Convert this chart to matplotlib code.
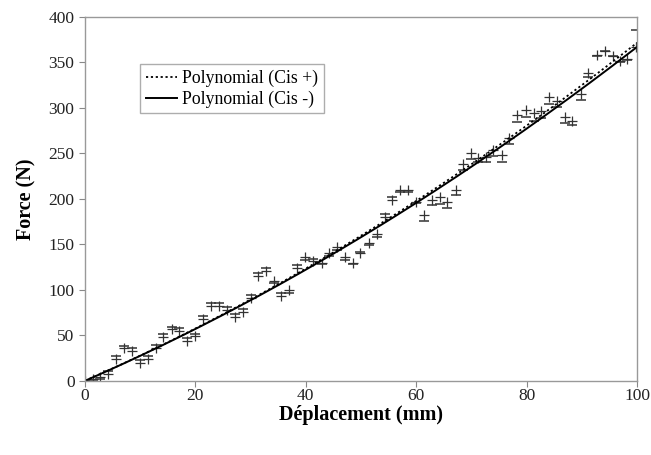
import matplotlib
matplotlib.use("Agg")
import matplotlib.pyplot as plt
import numpy as np

# Displacement (mm), shared by both series
x_mm = [0, 1.4, 2.7, 4.2, 5.6, 7.0, 8.5, 10.0, 11.4, 12.9,
        14.2, 15.7, 17.0, 18.4, 20.0, 21.4, 22.9, 24.3, 25.7, 27.2,
        28.6, 30.0, 31.3, 32.8, 34.2, 35.6, 37.0, 38.4, 39.9, 41.3,
        42.9, 44.2, 45.7, 47.1, 48.5, 49.9, 51.4, 52.9, 54.3, 55.7,
        57.0, 58.5, 60.0, 61.4, 62.8, 64.3, 65.6, 67.2, 68.4, 69.9,
        71.2, 72.6, 73.9, 75.5, 76.8, 78.2, 79.9, 81.3, 82.7, 84.0,
        85.5, 87.0, 88.3, 89.8, 91.1, 92.7, 94.2, 95.6, 96.9, 98.2, 99.8]

# Force (N), Cis + series
force_plus = [0, 2, 4, 8, 24, 36, 33, 20, 24, 36,
              48, 57, 55, 44, 49, 68, 82, 82, 78, 70,
              76, 91, 115, 121, 110, 93, 100, 124, 136, 132,
              130, 140, 147, 136, 130, 140, 151, 161, 180, 199,
              210, 210, 197, 182, 199, 202, 196, 210, 238, 250,
              245, 246, 254, 248, 267, 292, 298, 294, 297, 312,
              308, 290, 286, 315, 338, 358, 363, 357, 351, 354, 367]

# Force (N), Cis - series
force_minus = [1, 0, 2, 11, 27, 38, 36, 23, 27, 39,
               51, 59, 58, 47, 52, 71, 86, 86, 81, 73,
               79, 94, 118, 124, 107, 96, 97, 127, 133, 134,
               128, 137, 144, 133, 128, 142, 149, 158, 183, 202,
               207, 207, 195, 176, 193, 194, 190, 204, 232, 244,
               240, 240, 247, 240, 260, 284, 290, 286, 289, 304,
               301, 283, 281, 309, 334, 357, 362, 357, 350, 353, 385]

x = np.array(x_mm, dtype=float)
yp = np.array(force_plus, dtype=float)
ym = np.array(force_minus, dtype=float)


def poly2_origin(xs, ys):
    # order-2 trendline with intercept set to 0
    A = np.column_stack([xs, xs ** 2])
    coef, *_ = np.linalg.lstsq(A, ys, rcond=None)
    return coef


xx = np.linspace(0, 100, 200)
cp = poly2_origin(x, yp)
cm = poly2_origin(x, ym)
fit_plus = cp[0] * xx + cp[1] * xx ** 2
fit_minus = cm[0] * xx + cm[1] * xx ** 2

plt.rcParams["font.family"] = "Liberation Serif"

fig = plt.figure(figsize=(6.51, 4.55), dpi=100)
ax = fig.add_axes([0.1305, 0.163, 0.848, 0.8])

mk = "#333333"
ax.plot(x, yp, linestyle="none", marker="+", markersize=7,
        markeredgewidth=0.9, color=mk)
ax.plot(x, ym, linestyle="none", marker="_", markersize=6.5,
        markeredgewidth=1.1, color=mk)

ax.plot(xx, fit_plus, color="black", linewidth=1.3, linestyle=(0, (1.2, 1.5)),
        label="Polynomial (Cis +)")
ax.plot(xx, fit_minus, color="black", linewidth=1.4,
        label="Polynomial (Cis -)")

ax.set_xlim(0, 100)
ax.set_ylim(0, 400)
ax.set_xticks(range(0, 101, 20))
ax.set_yticks(range(0, 401, 50))
ax.tick_params(direction="out", length=4, color="#888888",
               labelsize=12.5, labelcolor="#222222")
ax.tick_params(axis="x", pad=0.8)
for s in ax.spines.values():
    s.set_color("#999999")
    s.set_linewidth(1.0)

ax.set_xlabel("Déplacement (mm)", fontsize=14.5, fontweight="bold", labelpad=1)
ax.set_ylabel("Force (N)", fontsize=14.5, fontweight="bold", labelpad=9)

leg = fig.legend(loc="upper left", bbox_to_anchor=(0.202, 0.878),
                 fontsize=12.8, frameon=True, fancybox=False,
                 handlelength=1.75, handletextpad=0.3, borderpad=0.3,
                 labelspacing=0.2)
leg.get_frame().set_edgecolor("#999999")
leg.get_frame().set_linewidth(1.0)

fig.savefig("out.png", dpi=100)
